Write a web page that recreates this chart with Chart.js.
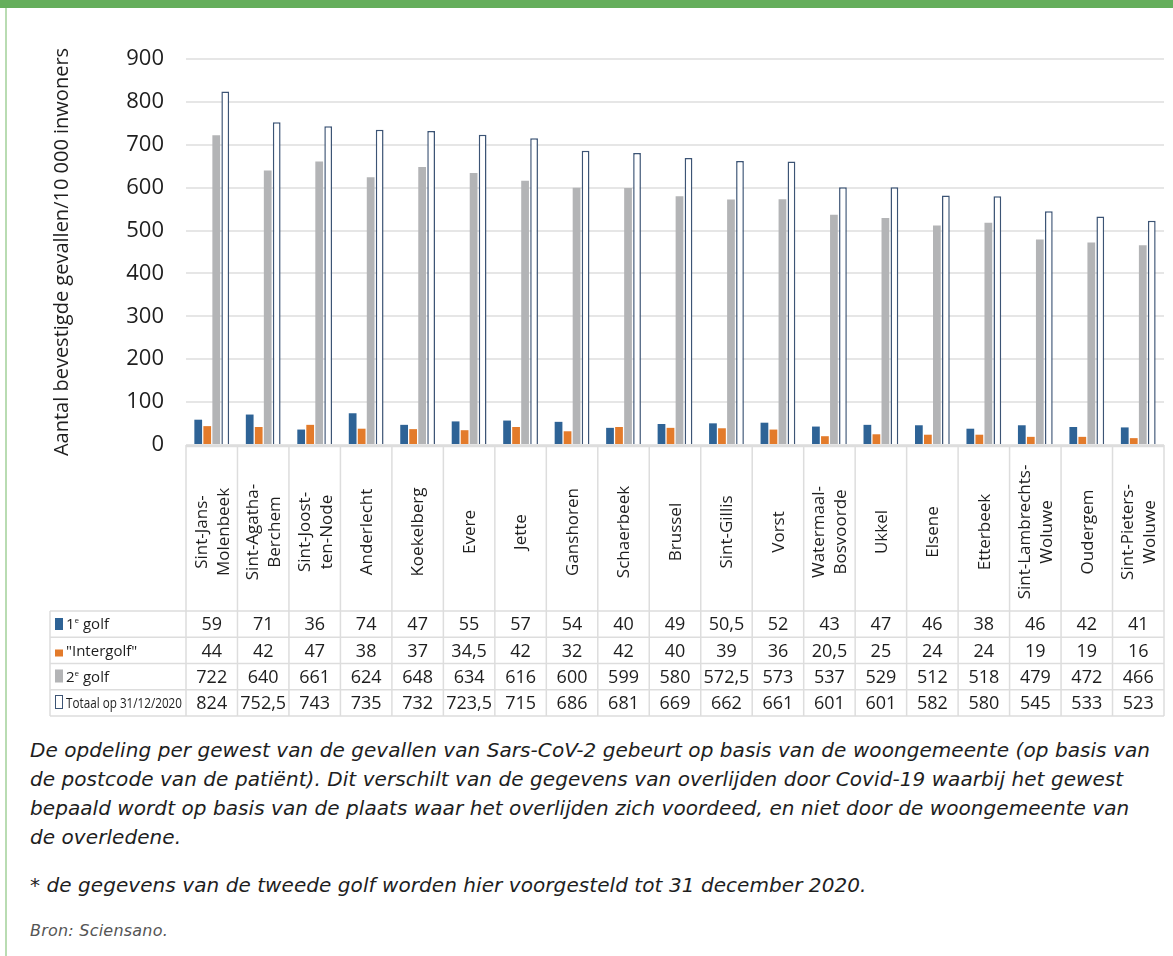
<!DOCTYPE html>
<html>
<head>
<meta charset="utf-8">
<script src="https://cdn.jsdelivr.net/npm/chart.js@4.4.0/dist/chart.umd.min.js"></script>
<style>
	body { margin: 0; background: #fff; width: 1173px; height: 956px; overflow: hidden; position: relative; font-family: "Open Sans", sans-serif; }
	#topBar { position: absolute; left: 0; top: 0; width: 1173px; height: 8px; background: #65ae5c; }
	#leftLine { position: absolute; left: 5px; top: 8px; width: 2px; height: 948px; background: #b9dcb2; }
	#chartBox { position: absolute; left: 0; top: 0; width: 1173px; height: 720px; }
	.nota { position: absolute; left: 30px; font-family: "DejaVu Sans", sans-serif; font-style: italic; font-size: 20px; line-height: 29px; color: #1e1e1e; white-space: nowrap; }
	.bron { position: absolute; left: 30px; font-family: "DejaVu Sans", sans-serif; font-style: italic; font-size: 16px; line-height: 18px; color: #555; white-space: nowrap; }
</style>
</head>
<body>
<div id="topBar"></div>
<div id="leftLine"></div>
<div id="chartBox"><canvas id="grafiekGemeenten"></canvas></div>

<div class="nota" id="nota1" style="top:736px">De opdeling per gewest van de gevallen van Sars-CoV-2 gebeurt op basis van de woongemeente (op basis van</div>
<div class="nota" style="top:765px">de postcode van de patiënt). Dit verschilt van de gegevens van overlijden door Covid-19 waarbij het gewest</div>
<div class="nota" style="top:794px">bepaald wordt op basis van de plaats waar het overlijden zich voordeed, en niet door de woongemeente van</div>
<div class="nota" style="top:823px">de overledene.</div>
<div class="nota" style="top:871px">* de gegevens van de tweede golf worden hier voorgesteld tot 31 december 2020.</div>
<div class="bron" id="bron" style="top:922px">Bron: Sciensano.</div>

<script>
var gemeenten = [
	['Sint-Jans-', 'Molenbeek'], ['Sint-Agatha-', 'Berchem'], ['Sint-Joost-', 'ten-Node'],
	'Anderlecht', 'Koekelberg', 'Evere', 'Jette', 'Ganshoren', 'Schaerbeek', 'Brussel',
	'Sint-Gillis', 'Vorst', ['Watermaal-', 'Bosvoorde'], 'Ukkel', 'Elsene', 'Etterbeek',
	['Sint-Lambrechts-', 'Woluwe'], 'Oudergem', ['Sint-Pieters-', 'Woluwe']
]
var eersteGolf = [59, 71, 36, 74, 47, 55, 57, 54, 40, 49, 50.5, 52, 43, 47, 46, 38, 46, 42, 41]
var interGolf = [44, 42, 47, 38, 37, 34.5, 42, 32, 42, 40, 39, 36, 20.5, 25, 24, 24, 19, 19, 16]
var tweedeGolf = [722, 640, 661, 624, 648, 634, 616, 600, 599, 580, 572.5, 573, 537, 529, 512, 518, 479, 472, 466]
var totaal = [824, 752.5, 743, 735, 732, 723.5, 715, 686, 681, 669, 662, 661, 601, 601, 582, 580, 545, 533, 523]
var yTicks = [0, 100, 200, 300, 400, 500, 600, 700, 800, 900]
// rij label: [tekst, superscript, rest]
var rijLabels = [['1', 'e', ' golf'], ['"Intergolf"', '', ''], ['2', 'e', ' golf'], ['Totaal op 31/12/2020', '', '']]

var kleuren = {
	blauw: '#2e6396',
	oranje: '#e37b2b',
	grijs: '#b3b4b6',
	rand: '#3c5475',
	lijn: '#dddddd',
	tekst: '#1e1e1e'
}

// tekstregels even breed maken als in het origineel
function pasBreedte(el, doel) {
	var w = el.getBoundingClientRect().width
	return (doel - w) / el.textContent.length
}
var spatie = pasBreedte(document.getElementById('nota1'), 1120)
document.querySelectorAll('.nota').forEach(function (el) {
	el.style.letterSpacing = spatie + 'px'
})
var bron = document.getElementById('bron')
bron.style.letterSpacing = pasBreedte(bron, 138) + 'px'

function formatGetal(v) {
	return String(v).replace('.', ',')
}

function lijn(ctx, x1, y1, x2, y2) {
	ctx.beginPath()
	ctx.moveTo(x1, y1)
	ctx.lineTo(x2, y2)
	ctx.stroke()
}

var tabelPlugin = {
	id: 'tabel',
	afterDraw: function (chart) {
		var ctx = chart.ctx
		var area = chart.chartArea
		var xs = chart.scales.x
		var n = gemeenten.length
		var kolom = (area.right - area.left) / n
		var top = area.bottom
		var labelBodem = 611
		var rijH = 26.25
		var tabelLinks = 50
		var tabelBodem = labelBodem + 4 * rijH
		var reeksen = [eersteGolf, interGolf, tweedeGolf, totaal]

		ctx.save()
		ctx.strokeStyle = kleuren.lijn
		ctx.lineWidth = 1.5
		for (var i = 0; i <= n; i++) {
			var x = area.left + i * kolom
			lijn(ctx, x, top, x, tabelBodem)
		}
		lijn(ctx, tabelLinks, labelBodem, tabelLinks, tabelBodem)
		for (var r = 0; r <= 4; r++) {
			var y = labelBodem + r * rijH
			lijn(ctx, tabelLinks, y, area.right, y)
		}
		ctx.lineWidth = 2.5
		lijn(ctx, area.left, top + 1, area.right, top + 1)

		// gemeentenamen, gedraaid
		ctx.fillStyle = kleuren.tekst
		ctx.font = '17px "Open Sans"'
		ctx.textAlign = 'center'
		ctx.textBaseline = 'middle'
		var midden = (top + labelBodem) / 2 + 4
		for (var i = 0; i < n; i++) {
			var regels = Array.isArray(gemeenten[i]) ? gemeenten[i] : [gemeenten[i]]
			ctx.save()
			ctx.translate(xs.getPixelForValue(i) + 1, midden)
			ctx.rotate(-Math.PI / 2)
			for (var j = 0; j < regels.length; j++) {
				ctx.fillText(regels[j], 0, (j - (regels.length - 1) / 2) * 22)
			}
			ctx.restore()
		}

		// waarden
		ctx.font = '18px "Open Sans"'
		for (var r = 0; r < 4; r++) {
			var yc = labelBodem + (r + 0.5) * rijH + 1
			for (var i = 0; i < n; i++) {
				ctx.fillText(formatGetal(reeksen[r][i]), xs.getPixelForValue(i), yc)
			}
		}

		// rij labels met kleurvakjes
		ctx.textAlign = 'left'
		var vakjes = [
			{ kleur: kleuren.blauw, y: 618, h: 12 },
			{ kleur: kleuren.oranje, y: 649.5, h: 7 },
			{ kleur: kleuren.grijs, y: 669.5, h: 13 },
			{ kleur: null, y: 696, h: 13 }
		]
		for (var r = 0; r < 4; r++) {
			var yc = labelBodem + (r + 0.5) * rijH + 1
			var v = vakjes[r]
			if (v.kleur) {
				ctx.fillStyle = v.kleur
				ctx.fillRect(55, v.y, 8, v.h)
			} else {
				ctx.strokeStyle = kleuren.rand
				ctx.lineWidth = 1
				ctx.strokeRect(55.5, v.y - 0.5, 7, v.h)
			}
			ctx.fillStyle = kleuren.tekst
			var lbl = rijLabels[r]
			var xt = 66
			ctx.font = '15px "Open Sans"'
			if (lbl[1] === '') {
				ctx.fillText(lbl[0], xt, yc, 116)
			} else {
				ctx.fillText(lbl[0], xt, yc)
				xt += ctx.measureText(lbl[0]).width
				ctx.font = '8px "Open Sans"'
				ctx.fillText(lbl[1], xt, yc - 4)
				xt += ctx.measureText(lbl[1]).width
				ctx.font = '15px "Open Sans"'
				ctx.fillText(lbl[2], xt, yc)
			}
		}
		ctx.restore()
	}
}

var configChart = {
	type: 'bar',
	data: {
		labels: gemeenten,
		datasets: [{
			label: '1e golf',
			data: eersteGolf,
			backgroundColor: kleuren.blauw
		}, {
			label: 'Intergolf',
			data: interGolf,
			backgroundColor: kleuren.oranje
		}, {
			label: '2e golf',
			data: tweedeGolf,
			backgroundColor: kleuren.grijs
		}, {
			label: 'Totaal op 31/12/2020',
			data: totaal,
			backgroundColor: '#ffffff',
			borderColor: kleuren.rand,
			borderWidth: 1.5
		}]
	},
	options: {
		responsive: true,
		maintainAspectRatio: false,
		animation: false,
		datasets: {
			bar: {
				categoryPercentage: 0.7,
				barPercentage: 0.86
			}
		},
		layout: {
			padding: { left: 50, top: 59, right: 9, bottom: 275 }
		},
		plugins: {
			legend: { display: false },
			tooltip: { enabled: false }
		},
		scales: {
			x: {
				display: false
			},
			y: {
				min: 0,
				max: 900,
				afterBuildTicks: function (scale) {
					scale.ticks = yTicks.map(function (v) { return { value: v } })
				},
				afterFit: function (scale) {
					scale.width = 136
				},
				border: { display: false },
				grid: { color: '#e6e6e6', lineWidth: 2, drawTicks: false },
				ticks: {
					font: { family: 'Open Sans', size: 22 },
					color: kleuren.tekst,
					padding: 22
				},
				title: {
					display: true,
					text: 'Aantal bevestigde gevallen/10 000 inwoners',
					font: { family: 'Open Sans', size: 20 },
					color: kleuren.tekst,
					padding: 0
				}
			}
		}
	},
	plugins: [tabelPlugin]
}

var ctx = document.getElementById('grafiekGemeenten').getContext('2d')
window.grafiek = new Chart(ctx, configChart)
</script>
</body>
</html>
